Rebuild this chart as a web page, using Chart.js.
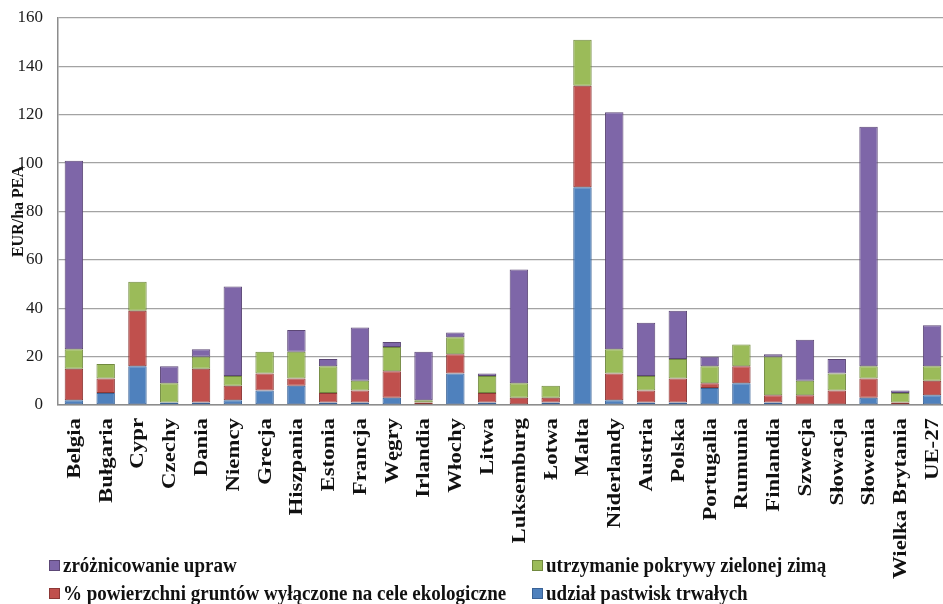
<!DOCTYPE html>
<html>
<head>
<meta charset="utf-8">
<script src="https://cdn.jsdelivr.net/npm/chart.js@4"></script>
<style>
  body { margin: 0; background: #fff; overflow: hidden; }
  #wrap { position: relative; width: 943px; height: 604px; overflow: hidden; }
  #legend {
    position: absolute; left: 49px; top: 551px;
    display: grid; grid-template-columns: 483px auto; grid-auto-rows: 28px;
    font: bold 19px "Liberation Serif", serif; color: #111;
  }
  .item { display: flex; align-items: center; white-space: nowrap; }
  .item span.t { display: inline-block; transform: scaleY(1.12); }
  .box { width: 9px; height: 9px; border: 1px solid; margin-right: 3px; }
</style>
</head>
<body>
<div id="wrap">
  <canvas id="chart" width="948" height="604"></canvas>
  <div id="legend"></div>
</div>
<script>
// categories
const countries = ['Belgia', 'Bułgaria', 'Cypr', 'Czechy', 'Dania', 'Niemcy', 'Grecja', 'Hiszpania',
  'Estonia', 'Francja', 'Węgry', 'Irlandia', 'Włochy', 'Litwa', 'Luksemburg', 'Łotwa', 'Malta',
  'Niderlandy', 'Austria', 'Polska', 'Portugalia', 'Rumunia', 'Finlandia', 'Szwecja', 'Słowacja',
  'Słowenia', 'Wielka Brytania', 'UE-27'];

// series values (EUR/ha PEA), stacked bottom to top
const pastwiska = [2, 5, 16, 1, 1, 2, 6, 8, 1, 1, 3, 0, 13, 1, 0, 1, 90, 2, 1, 1, 7, 9, 1, 0, 0, 3, 0, 4];
const grunty = [13, 6, 23, 0, 14, 6, 7, 3, 4, 5, 11, 1, 8, 4, 3, 2, 42, 11, 5, 10, 2, 7, 3, 4, 6, 8, 1, 6];
const pokrywa = [8, 6, 12, 8, 5, 4, 9, 11, 11, 4, 10, 1, 7, 7, 6, 5, 19, 10, 6, 8, 7, 9, 16, 6, 7, 5, 4, 6];
const zroznicowanie = [78, 0, 0, 7, 3, 37, 0, 9, 3, 22, 2, 20, 2, 1, 47, 0, 0, 98, 22, 20, 4, 0, 1, 17, 6, 99, 1, 17];

const yTicks = [0, 20, 40, 60, 80, 100, 120, 140, 160];

const series = [
  { label: 'udział pastwisk trwałych', data: pastwiska, fill: '#4F81BD', line: '#3A6296' },
  { label: '% powierzchni gruntów wyłączone na cele ekologiczne', data: grunty, fill: '#C0504D', line: '#8C3836' },
  { label: 'utrzymanie pokrywy zielonej zimą', data: pokrywa, fill: '#9BBB59', line: '#71893F' },
  { label: 'zróżnicowanie upraw', data: zroznicowanie, fill: '#7E66A8', line: '#5C4776' }
];

//legend order: row 1 purple, green; row 2 red, blue
const legendOrder = [3, 2, 1, 0];

// draws the rotated country names under the axis
const xLabels = {
  id: 'xLabels',
  afterDraw(chart) {
    const ctx = chart.ctx;
    const xs = chart.scales.x;
    const top = chart.chartArea.bottom + 13;
    ctx.save();
    ctx.fillStyle = '#111';
    ctx.font = 'bold 19px "Liberation Serif"';
    ctx.textAlign = 'right';
    ctx.textBaseline = 'middle';
    countries.forEach((c, i) => {
      ctx.save();
      ctx.translate(xs.getPixelForTick(i) + 1, top);
      ctx.rotate(-Math.PI / 2);
      ctx.scale(1.2, 1);
      ctx.fillText(c, 0, 0);
      ctx.restore();
    });
    ctx.restore();
  }
};

new Chart(document.getElementById('chart'), {
  type: 'bar',
  data: {
    labels: countries,
    datasets: series.map(s => ({
      label: s.label,
      data: s.data,
      backgroundColor: s.fill,
      borderColor: s.line,
      borderWidth: c => (c.raw > 0 ? 1 : 0),
      borderSkipped: false,
      barPercentage: 0.58,
      categoryPercentage: 1
    }))
  },
  options: {
    responsive: false,
    animation: false,
    layout: { padding: 0 },
    plugins: { legend: { display: false }, tooltip: { enabled: false } },
    scales: {
      x: {
        stacked: true,
        grid: { display: false, drawTicks: false },
        border: { color: '#8c8c8c', width: 1.5 },
        ticks: { display: false },
        afterFit: s => { s.height = 199; }
      },
      y: {
        stacked: true,
        min: 0, max: 160,
        afterBuildTicks: s => { s.ticks = yTicks.map(v => ({ value: v })); },
        grid: { color: '#a3a3a3', lineWidth: 1.3, drawTicks: false },
        border: { color: '#8c8c8c', width: 1.5 },
        ticks: { padding: 15, color: '#1a1a1a', font: { family: 'Liberation Serif', size: 17 } },
        title: {
          display: true, text: 'EUR/ha PEA', color: '#111', padding: { top: 9, bottom: 0 },
          font: { family: 'Liberation Serif', size: 16, weight: 'bold' }
        },
        afterFit: s => { s.width = 58; s.paddingTop = 18; s.paddingBottom = 0; }
      }
    }
  },
  plugins: [xLabels]
});

const legend = document.getElementById('legend');
legendOrder.forEach(i => {
  const s = series[i];
  const item = document.createElement('div');
  item.className = 'item';
  item.innerHTML = '<span class="box" style="background:' + s.fill + ';border-color:' + s.line + '"></span><span class="t">' + s.label + '</span>';
  legend.appendChild(item);
});
</script>
</body>
</html>
